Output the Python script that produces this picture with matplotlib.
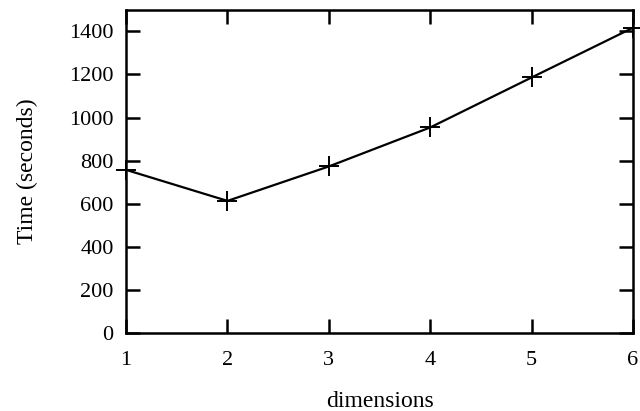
import matplotlib
matplotlib.use("Agg")
import matplotlib.pyplot as plt

dimensions = [1, 2, 3, 4, 5, 6]
times = [757, 613, 773, 954, 1186, 1417]
y_ticks = [0, 200, 400, 600, 800, 1000, 1200, 1400]

plt.rcParams["font.family"] = ["Liberation Serif", "DejaVu Serif"]

fig = plt.figure(figsize=(6.4, 4.11), dpi=100)
ax = fig.add_axes([0.197, 0.19, 0.792, 0.786])

ax.plot(dimensions, times, color="black", linewidth=1.6,
        marker="+", markersize=14, markeredgewidth=1.4, clip_on=False)

ax.set_xlim(1, 6)
ax.set_ylim(0, 1500)
ax.set_xticks(dimensions)
ax.set_yticks(y_ticks)

for side in ax.spines.values():
    side.set_linewidth(1.8)

ax.tick_params(direction="in", length=10, width=1.8, labelsize=16,
               top=True, right=True)
ax.tick_params(axis="x", pad=13)
ax.tick_params(axis="y", pad=9)

ax.set_xlabel("dimensions", fontsize=17, labelpad=15)
ax.set_ylabel("Time (seconds)", fontsize=17, labelpad=22)

fig.savefig("out.png", dpi=100)
